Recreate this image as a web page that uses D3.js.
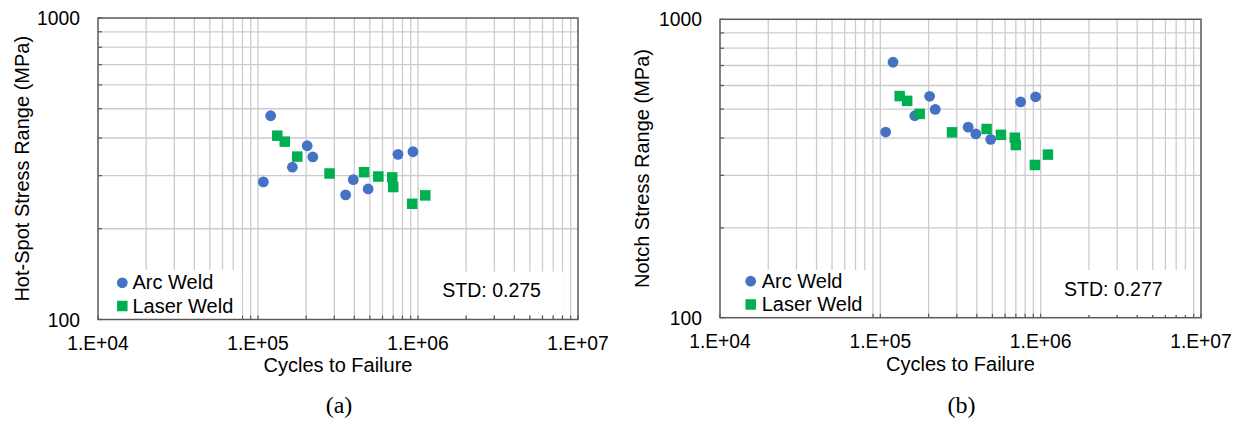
<!DOCTYPE html>
<html>
<head>
<meta charset="utf-8">
<script src="https://cdn.jsdelivr.net/npm/d3@7"></script>
<style>
  html, body { margin: 0; padding: 0; background: #fff; }
  svg { display: block; }
  text { font-family: "Liberation Sans", Arial, sans-serif; fill: #000; }
  .caption { font-family: "Liberation Serif", "Times New Roman", serif; }
</style>
</head>
<body>
<svg id="chart" width="1241" height="421"></svg>
<script>
// Fatigue test results: cycles to failure and stress range per specimen
const arcCycles   = [1.08e5, 1.20e5, 1.64e5, 2.03e5, 2.20e5, 3.53e5, 3.94e5, 4.88e5, 7.50e5, 9.30e5];
const laserCycles = [1.32e5, 1.47e5, 1.76e5, 2.80e5, 4.60e5, 5.65e5, 6.90e5, 7.00e5, 9.20e5, 1.11e6];

const arcHotSpot   = [286, 474, 320, 377, 346, 259, 291, 271, 353, 360];
const laserHotSpot = [407, 389, 347, 305, 308, 298, 296, 275, 242, 258];

const arcNotch   = [419, 718, 475, 552, 499, 435, 413, 396, 529, 550];
const laserNotch = [553, 533, 482, 418, 429, 410, 401, 379, 325, 352];

const cycleTicks = [1e4, 1e5, 1e6, 1e7];
const cycleTickLabels = ["1.E+04", "1.E+05", "1.E+06", "1.E+07"];
const stressTicks = [100, 1000];
const stressTickLabels = ["100", "1000"];

const seriesNames = ["Arc Weld", "Laser Weld"];
const stdLabels = ["STD: 0.275", "STD: 0.277"];
const yTitles = ["Hot-Spot Stress Range (MPa)", "Notch Stress Range (MPa)"];
const xTitle = "Cycles to Failure";
const captions = ["(a)", "(b)"];

const ARC_COLOR = "#4472C4";
const LASER_COLOR = "#00B050";
const GRID_COLOR = "#cccccc";
const FRAME_COLOR = "#595959";

const svg = d3.select("#chart");

function drawPanel(p) {
  const x = d3.scaleLog().domain([cycleTicks[0], cycleTicks[cycleTicks.length - 1]]).range([p.left, p.right]);
  const y = d3.scaleLog().domain([stressTicks[0], stressTicks[stressTicks.length - 1]]).range([p.bottom, p.top]);
  const g = svg.append("g");

  // log grid
  g.append("g").selectAll("line").data(x.ticks().filter(d => d > x.domain()[0] && d < x.domain()[1]))
    .join("line")
    .attr("x1", d => x(d)).attr("x2", d => x(d))
    .attr("y1", p.top).attr("y2", p.bottom)
    .attr("stroke", GRID_COLOR).attr("stroke-width", 1.3);
  g.append("g").selectAll("line").data(y.ticks().filter(d => d > y.domain()[0] && d < y.domain()[1]))
    .join("line")
    .attr("x1", p.left).attr("x2", p.right)
    .attr("y1", d => y(d)).attr("y2", d => y(d))
    .attr("stroke", GRID_COLOR).attr("stroke-width", 1.3);

  // inward minor tick marks on the left and bottom edges
  g.append("g").selectAll("line").data(y.ticks())
    .join("line")
    .attr("x1", p.left).attr("x2", p.left + 4)
    .attr("y1", d => y(d)).attr("y2", d => y(d))
    .attr("stroke", FRAME_COLOR).attr("stroke-width", 1.2);
  g.append("g").selectAll("line").data(x.ticks())
    .join("line")
    .attr("x1", d => x(d)).attr("x2", d => x(d))
    .attr("y1", p.bottom).attr("y2", p.bottom - 4)
    .attr("stroke", FRAME_COLOR).attr("stroke-width", 1.2);

  // legend and STD boxes sit on a white background over the grid
  g.append("rect")
    .attr("x", p.legend.x).attr("y", p.legend.y)
    .attr("width", p.legend.w).attr("height", p.bottom - p.legend.y)
    .attr("fill", "#fff");
  g.append("rect")
    .attr("x", p.std.x).attr("y", p.std.y)
    .attr("width", p.std.w).attr("height", p.std.h)
    .attr("fill", "#fff");

  // plot frame
  g.append("rect")
    .attr("x", p.left).attr("y", p.top)
    .attr("width", p.right - p.left).attr("height", p.bottom - p.top)
    .attr("fill", "none").attr("stroke", FRAME_COLOR).attr("stroke-width", 1.5);

  // data points
  const arc = arcCycles.map((c, i) => [c, p.arc[i]]);
  const laser = laserCycles.map((c, i) => [c, p.laser[i]]);
  const sq = 10.5;
  g.append("g").selectAll("circle").data(arc)
    .join("circle")
    .attr("cx", d => x(d[0])).attr("cy", d => y(d[1])).attr("r", 5.4)
    .attr("fill", ARC_COLOR);
  g.append("g").selectAll("rect").data(laser)
    .join("rect")
    .attr("x", d => x(d[0]) - sq / 2).attr("y", d => y(d[1]) - sq / 2)
    .attr("width", sq).attr("height", sq)
    .attr("fill", LASER_COLOR);

  // legend entries
  const lg = p.legend;
  g.append("circle").attr("cx", lg.mx).attr("cy", lg.row1 - 6.5).attr("r", 5.4).attr("fill", ARC_COLOR);
  g.append("rect").attr("x", lg.mx - sq / 2).attr("y", lg.row2 - 6.5 - sq / 2)
    .attr("width", sq).attr("height", sq).attr("fill", LASER_COLOR);
  g.append("text").attr("x", lg.tx).attr("y", lg.row1).attr("font-size", 20).text(seriesNames[0]);
  g.append("text").attr("x", lg.tx).attr("y", lg.row2).attr("font-size", 20).text(seriesNames[1]);

  // STD annotation
  g.append("text").attr("x", p.std.tx).attr("y", p.std.ty).attr("font-size", 19.5).text(p.stdText);

  // tick labels
  g.append("g").selectAll("text").data(cycleTicks)
    .join("text")
    .attr("x", d => x(d)).attr("y", p.xLabelY)
    .attr("text-anchor", "middle").attr("font-size", 19.3)
    .text((d, i) => cycleTickLabels[i]);
  g.append("g").selectAll("text").data(stressTicks)
    .join("text")
    .attr("x", p.left - 18).attr("y", d => y(d) + 7)
    .attr("text-anchor", "end").attr("font-size", 19.3)
    .text((d, i) => stressTickLabels[i]);

  // axis titles and caption
  g.append("text")
    .attr("x", (p.left + p.right) / 2).attr("y", p.xTitleY)
    .attr("text-anchor", "middle").attr("font-size", 20)
    .text(xTitle);
  g.append("text")
    .attr("transform", `translate(${p.yTitleX},${(p.top + p.bottom) / 2}) rotate(-90)`)
    .attr("text-anchor", "middle").attr("font-size", 20)
    .text(p.yTitle);
  g.append("text").attr("class", "caption")
    .attr("x", (p.left + p.right) / 2 + 1).attr("y", 413)
    .attr("text-anchor", "middle").attr("font-size", 24)
    .text(p.caption);
}

drawPanel({
  left: 98, right: 578, top: 18, bottom: 319.5,
  arc: arcHotSpot, laser: laserHotSpot,
  legend: { x: 108, y: 270, w: 134, mx: 122.3, tx: 132.5, row1: 289.3, row2: 312.5 },
  std: { x: 428, y: 271.5, w: 135, h: 43.5, tx: 442.3, ty: 297.3 },
  stdText: stdLabels[0],
  xLabelY: 350, xTitleY: 371.7, yTitleX: 29,
  yTitle: yTitles[0], caption: captions[0]
});

drawPanel({
  left: 720, right: 1201, top: 19.3, bottom: 317.7,
  arc: arcNotch, laser: laserNotch,
  legend: { x: 736.7, y: 270, w: 130, mx: 750.7, tx: 761.7, row1: 287.7, row2: 311 },
  std: { x: 1053, y: 270, w: 140, h: 45, tx: 1064, ty: 296 },
  stdText: stdLabels[1],
  xLabelY: 348.3, xTitleY: 370.5, yTitleX: 649,
  yTitle: yTitles[1], caption: captions[1]
});
</script>
</body>
</html>
